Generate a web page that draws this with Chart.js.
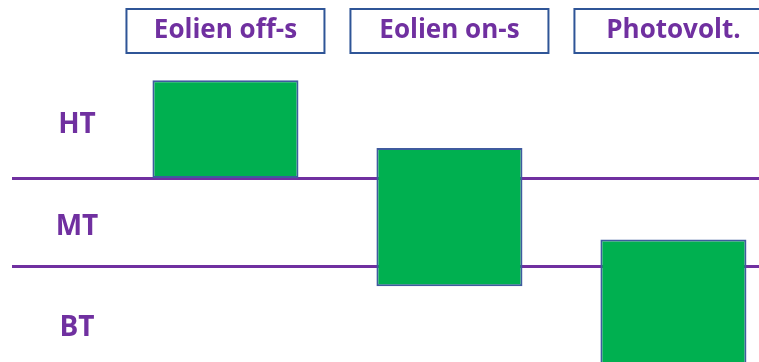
<!DOCTYPE html>
<html>
<head>
<meta charset="utf-8">
<script src="https://cdn.jsdelivr.net/npm/chart.js@4/dist/chart.umd.min.js"></script>
<style>
  html, body { margin: 0; padding: 0; background: #fff; overflow: hidden; }
  #wrap { width: 759px; height: 362px; position: relative; }
</style>
</head>
<body>
<div id="wrap"><canvas id="myChart"></canvas></div>
<script>
// categories (header boxes) and floating bar ranges
const categories = ["Eolien off-s", "Eolien on-s", "Photovolt."];
const barStart = [2, 0.77, -0.3];
const barEnd = [3.11, 2.34, 1.3];

// voltage levels: boundaries between them and where each name sits
const levelNames = ["BT", "MT", "HT"];
const levelBounds = [1, 2];
const levelNameAt = [0.3, 1.44, 2.6];

const purple = "#7030A0";
const boxBlue = "#2F5597";

// header boxes + level names, placed through the chart scales
const labelsPlugin = {
  id: "labels",
  afterDraw(chart) {
    const ctx = chart.ctx;
    const xs = chart.scales.x;
    const ys = chart.scales.y;
    ctx.save();
    ctx.textAlign = "center";
    ctx.textBaseline = "middle";

    ctx.font = "bold 26px 'Open Sans'";
    categories.forEach((c, i) => {
      const cx = xs.getPixelForValue(i + 1);
      ctx.fillStyle = "#fff";
      ctx.fillRect(cx - 99, 9, 198, 44);
      ctx.strokeStyle = boxBlue;
      ctx.lineWidth = 2;
      ctx.strokeRect(cx - 99, 9, 198, 44);
      ctx.fillStyle = purple;
      ctx.fillText(c, cx, 31);
    });

    ctx.fillStyle = purple;
    ctx.font = "bold 28px 'Open Sans'";
    levelNames.forEach((n, i) => {
      ctx.fillText(n, 77, ys.getPixelForValue(levelNameAt[i]));
    });
    ctx.restore();
  }
};

const canvas = document.getElementById("myChart");
const ctx = canvas.getContext("2d");

const myChart = new Chart(ctx, {
  type: "bar",
  data: {
    datasets: [
      {
        data: categories.map((c, i) => ({ x: i + 1, y: [barStart[i], barEnd[i]] })),
        backgroundColor: "#00B050",
        borderColor: "#3F5B9E",
        borderWidth: 2,
        borderSkipped: false,
        categoryPercentage: 1,
        barPercentage: 0.652,
      },
    ],
  },
  options: {
    responsive: true,
    maintainAspectRatio: false,
    animation: false,
    layout: { padding: { left: 12, right: 0, top: 0, bottom: 0 } },
    plugins: {
      legend: { display: false },
      tooltip: { enabled: false },
    },
    scales: {
      x: {
        type: "linear",
        min: 0.047,
        max: 3.382,
        offset: false,
        display: false,
        afterBuildTicks: (scale) => {
          scale.ticks = categories.map((c, i) => ({ value: i + 1 }));
        },
      },
      y: {
        min: -0.091,
        max: 4.023,
        z: 1,
        afterBuildTicks: (scale) => {
          scale.ticks = levelBounds.map((v) => ({ value: v }));
        },
        ticks: { display: false },
        border: { display: false },
        grid: {
          color: purple,
          lineWidth: 3,
          drawTicks: false,
        },
      },
    },
  },
  plugins: [labelsPlugin],
});
</script>
</body>
</html>
